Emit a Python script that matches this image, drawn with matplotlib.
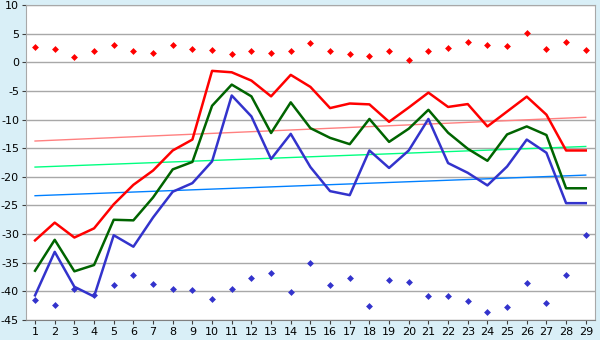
import numpy as np
import matplotlib.pyplot as plt

plt.rcParams['axes.unicode_minus'] = False

days = list(range(1, 30))

top_pts = [2.6, 2.4, 1.0, 1.9, 3.0, 1.9, 1.7, 3.0, 2.3, 2.1, 1.4, 1.9, 1.6, 1.9, 3.3,
           1.9, 1.5, 1.1, 1.9, 0.4, 1.9, 2.5, 3.5, 3.0, 2.85, 5.1, 2.3, 3.5, 2.15]
low_pts = [-41.5, -42.4, -39.6, -40.7, -38.9, -37.1, -38.7, -39.6, -39.7, -41.3, -39.6,
           -37.6, -36.8, -40.1, -35.0, -38.9, -37.6, -42.5, -38.0, -38.3, -40.8, -40.8,
           -41.7, -43.6, -42.7, -38.5, -42.0, -37.1, -30.1]
red_line = [-31.1, -28.0, -30.6, -29.0, -24.8, -21.4, -18.9, -15.4, -13.5, -1.5, -1.75,
            -3.2, -5.95, -2.2, -4.3, -8.0, -7.2, -7.35, -10.4, -7.9, -5.3, -7.8, -7.3,
            -11.2, -8.6, -6.0, -9.15, -15.4, -15.4]
green_line = [-36.4, -31.0, -36.5, -35.4, -27.5, -27.6, -23.6, -18.7, -17.4, -7.6, -3.9,
              -5.95, -12.35, -7.0, -11.5, -13.2, -14.3, -9.9, -13.9, -11.6, -8.3, -12.3,
              -15.1, -17.2, -12.6, -11.2, -12.7, -22.0, -22.0]
blue_line = [-40.7, -33.1, -39.2, -40.9, -30.2, -32.2, -27.1, -22.6, -21.1, -17.3, -5.8,
             -9.45, -16.9, -12.5, -18.3, -22.5, -23.2, -15.4, -18.45, -15.4, -9.9, -17.6,
             -19.3, -21.5, -18.2, -13.5, -15.8, -24.6, -24.6]

# trend lines (first and last value)
trend_x = [1, 29]
trend_red = [-13.75, -9.6]
trend_green = [-18.3, -14.7]
trend_blue = [-23.3, -19.7]

fig = plt.figure(figsize=(6, 3.4), dpi=100)
fig.patch.set_facecolor('#d9eff7')
ax = fig.add_axes([26 / 600, 1 - 320 / 340, 569 / 600, 315 / 340])
ax.set_facecolor('white')

ax.plot(trend_x, trend_red, color='#ff8080', lw=1)
ax.plot(trend_x, trend_green, color='#00ff80', lw=1)
ax.plot(trend_x, trend_blue, color='#0080ff', lw=1)

ax.plot(days, red_line, color='#ff0000', lw=1.8)
ax.plot(days, green_line, color='#006400', lw=1.8)
ax.plot(days, blue_line, color='#3333cc', lw=1.8)

ax.plot(days, top_pts, 'D', color='#ff0000', ms=3.5, mew=0)
ax.plot(days, low_pts, 'D', color='#3333cc', ms=3.5, mew=0)

ax.set_xlim(0.54, 29.47)
ax.set_ylim(-45, 10)
ax.set_xticks(days)
ax.set_yticks(np.arange(-45, 11, 5))
ax.yaxis.grid(True, color='#a8a8a8', lw=1)
ax.set_axisbelow(True)
for s in ax.spines.values():
    s.set_color('#a8a8a8')
ax.spines['bottom'].set_color('#808080')
ax.tick_params(axis='both', labelsize=8, length=3, color='#404040', pad=2)

fig.savefig('out.png', dpi=100, facecolor=fig.get_facecolor())
